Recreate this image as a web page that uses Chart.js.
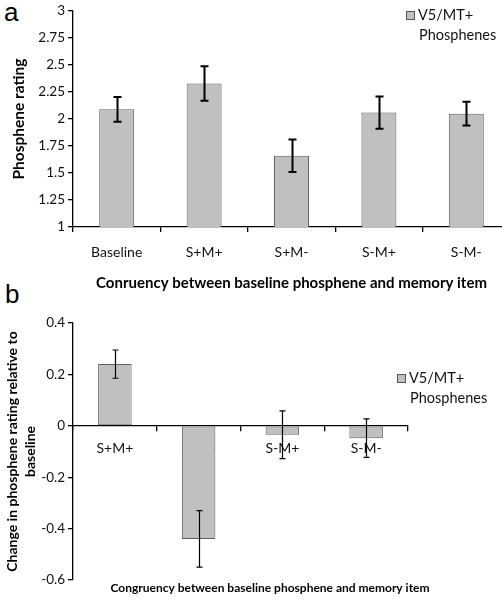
<!DOCTYPE html>
<html lang="en">
<head>
<meta charset="UTF-8">
<title>Phosphene rating</title>
<script src="https://cdn.jsdelivr.net/npm/chart.js"></script>
<style>
    html, body { margin:0; padding:0; overflow:hidden; background:#fff; width:502px; height:601px; }
    .letter { position:absolute; font-family:"Liberation Sans", Arial, sans-serif; font-size:26px; line-height:1; color:#000; }
    canvas { position:absolute; left:0; }
</style>
</head>
<body>
<div class="letter" style="left:4px; top:-1px">a</div>
<div class="letter" style="left:5px; top:281px">b</div>
<canvas id="chartA" width="512" height="295" style="top:0"></canvas>
<canvas id="chartB" width="502" height="306" style="top:295px"></canvas>
<script>
    // panel a
    const catsA = ['Baseline', 'S+M+', 'S+M-', 'S-M+', 'S-M-'];
    const ratingA = [2.09, 2.33, 1.66, 2.06, 2.05];
    const errA = [0.115, 0.16, 0.15, 0.15, 0.11];
    const yTicksA = [1, 1.25, 1.5, 1.75, 2, 2.25, 2.5, 2.75, 3];

    // panel b
    const catsB = ['S+M+', 'S+M-', 'S-M+', 'S-M-'];
    const changeB = [0.24, -0.44, -0.035, -0.048];
    const errB = [0.055, 0.11, 0.093, 0.075];
    const yTicksB = [-0.6, -0.4, -0.2, 0, 0.2, 0.4];

    const legendLines = ['V5/MT+', 'Phosphenes'];

    const FONT = 'Lato, "Liberation Sans", sans-serif';
    Chart.defaults.font.family = FONT;
    Chart.defaults.color = '#111';

    // error bars drawn on top of everything
    const errorBars = {
        id: 'errorBars',
        afterDraw(chart, args, opts) {
            const ctx = chart.ctx;
            const y = chart.scales.y;
            const data = chart.data.datasets[0].data;
            ctx.save();
            ctx.strokeStyle = '#000';
            ctx.lineWidth = opts.width;
            chart.getDatasetMeta(0).data.forEach((bar, i) => {
                const t = y.getPixelForValue(data[i] + opts.errors[i]);
                const b = y.getPixelForValue(data[i] - opts.errors[i]);
                const x = Math.round(bar.x) + 0.5;
                ctx.beginPath();
                ctx.moveTo(x, t); ctx.lineTo(x, b);
                ctx.moveTo(x - opts.cap, t); ctx.lineTo(x + opts.cap, t);
                ctx.moveTo(x - opts.cap, b); ctx.lineTo(x + opts.cap, b);
                ctx.stroke();
            });
            ctx.restore();
        }
    };

    // little excel-style legend: square + two text lines
    const boxLegend = {
        id: 'boxLegend',
        afterDraw(chart, args, opts) {
            const ctx = chart.ctx;
            ctx.save();
            ctx.fillStyle = '#c0c0c0';
            ctx.strokeStyle = '#555';
            ctx.lineWidth = 1;
            ctx.fillRect(opts.x, opts.y - 4, 8, 8);
            ctx.strokeRect(opts.x + 0.5, opts.y - 3.5, 8, 8);
            ctx.fillStyle = '#111';
            ctx.font = '14.5px ' + FONT;
            ctx.textBaseline = 'middle';
            ctx.fillText(legendLines[0], opts.x + 12, opts.y);
            ctx.fillText(legendLines[1], opts.x + 13, opts.y + 20);
            ctx.restore();
        }
    };

    const caption = {
        id: 'caption',
        afterDraw(chart, args, opts) {
            if (!opts.text) return;
            const ctx = chart.ctx;
            ctx.save();
            ctx.fillStyle = '#000';
            ctx.font = opts.font;
            ctx.textAlign = 'center';
            ctx.textBaseline = 'middle';
            ctx.fillText(opts.text, opts.x, opts.y);
            ctx.restore();
        }
    };

    const axisGrid = { display: true, drawOnChartArea: false, drawTicks: true, tickLength: 5, color: '#000', lineWidth: 1.3 };
    const axisBorder = { display: true, color: '#000', width: 1.3 };

    const chartA = new Chart(document.querySelector('#chartA'), {
        type: 'bar',
        data: {
            labels: catsA,
            datasets: [{
                data: ratingA,
                backgroundColor: '#c0c0c0',
                borderColor: '#5f5f5f',
                borderWidth: 1,
                borderSkipped: false,
                barPercentage: 0.4,
                categoryPercentage: 1
            }]
        },
        options: {
            responsive: false,
            animation: false,
            layout: { padding: { top: 6, right: 2, left: 0, bottom: 0 } },
            plugins: {
                legend: { display: false },
                tooltip: { enabled: false },
                errorBars: { errors: errA, width: 2, cap: 4 },
                boxLegend: { x: 406, y: 15 }
            },
            scales: {
                x: {
                    grid: axisGrid,
                    border: axisBorder,
                    ticks: { font: { size: 14 }, padding: 12, color: '#111' },
                    title: {
                        display: true,
                        text: 'Conruency between baseline phosphene and memory item',
                        font: { size: 15, weight: 'bold' },
                        color: '#000',
                        padding: { top: 0, bottom: 3 }
                    },
                    afterFit(s) { s.height = 68; }
                },
                y: {
                    min: 1, max: 3,
                    grid: axisGrid,
                    border: axisBorder,
                    afterBuildTicks(s) { s.ticks = yTicksA.map(v => ({ value: v })); },
                    ticks: { font: { size: 13.5 }, padding: 3, color: '#111', callback: v => String(v) },
                    title: {
                        display: true,
                        text: 'Phosphene rating',
                        font: { size: 15.5, weight: 'bold' },
                        color: '#000',
                        padding: { top: 10, bottom: 0 }
                    },
                    afterFit(s) { s.width = 73; }
                }
            }
        },
        plugins: [errorBars, boxLegend]
    });

    const chartB = new Chart(document.querySelector('#chartB'), {
        type: 'bar',
        data: {
            labels: catsB,
            datasets: [{
                data: changeB,
                backgroundColor: '#c0c0c0',
                borderColor: '#5f5f5f',
                borderWidth: 1,
                borderSkipped: false,
                barPercentage: 0.4,
                categoryPercentage: 1
            }]
        },
        options: {
            responsive: false,
            animation: false,
            layout: { padding: { top: 28, right: 94, left: 0, bottom: 21 } },
            plugins: {
                legend: { display: false },
                tooltip: { enabled: false },
                errorBars: { errors: errB, width: 1.2, cap: 3 },
                boxLegend: { x: 397, y: 83 },
                caption: {
                    text: 'Congruency between baseline phosphene and memory item',
                    font: 'bold 12px ' + FONT,
                    x: 270, y: 293
                }
            },
            scales: {
                x: {
                    position: { y: 0 },
                    grid: axisGrid,
                    border: axisBorder,
                    ticks: { font: { size: 14 }, padding: 9, color: '#111' }
                },
                y: {
                    min: -0.6, max: 0.4,
                    grid: axisGrid,
                    border: axisBorder,
                    afterBuildTicks(s) { s.ticks = yTicksB.map(v => ({ value: v })); },
                    ticks: { font: { size: 13.5 }, padding: 3, color: '#111', callback: v => String(Math.round(v * 100) / 100) },
                    title: {
                        display: true,
                        text: ['Change in phosphene rating relative to', 'baseline'],
                        font: { size: 14, weight: 'bold', lineHeight: 1.3 },
                        color: '#000',
                        padding: { top: 3, bottom: 0 }
                    },
                    afterFit(s) { s.width = 73; }
                }
            }
        },
        plugins: [errorBars, boxLegend, caption]
    });
</script>
</body>
</html>
